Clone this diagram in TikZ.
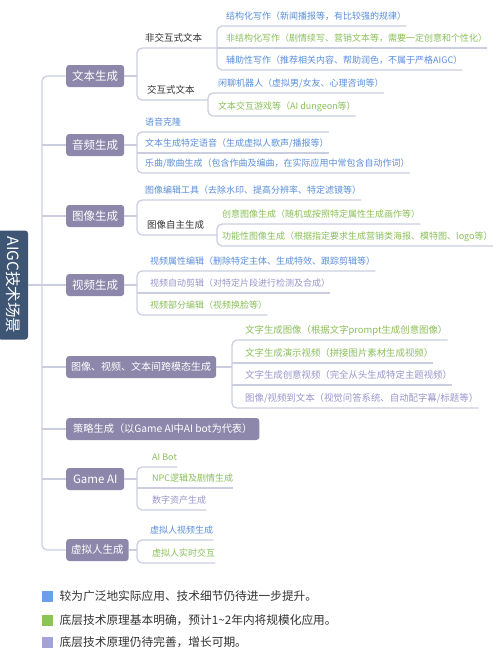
\documentclass[tikz,border=0pt]{standalone}
\usepackage{fontspec}
\setmainfont{Noto Sans CJK SC}
\usetikzlibrary{positioning}
\definecolor{rootc}{HTML}{3E5573}
\definecolor{boxc}{HTML}{8D88AB}
\definecolor{linec}{HTML}{CBCEE0}
\definecolor{blu}{HTML}{5B8FDB}
\definecolor{grn}{HTML}{8BBF5A}
\definecolor{lav}{HTML}{9896CB}
\definecolor{blukey}{HTML}{6B9FE8}
\definecolor{grnkey}{HTML}{8CC35A}
\definecolor{lavkey}{HTML}{A3A3D9}
\definecolor{ink}{HTML}{333333}

\begin{document}
\begin{tikzpicture}[x=1pt, y=-1pt]
            \tikzset{topic/.style={fill=boxc, text=white, rounded corners=3pt, minimum height=22pt, minimum width=58pt, inner xsep=5pt, anchor=west, font=\fontsize{11.5}{12}\selectfont},
                     leaf/.style={anchor=south west, inner xsep=0pt, inner ysep=4.5pt, text height=7pt, text depth=2pt, font=\fontsize{9}{10}\selectfont},
                     sub/.style={leaf, text=ink, font=\fontsize{9.5}{10}\selectfont},
                     link/.style={draw=linec, line width=1.2pt},
                     fork/.style={link, rounded corners=5pt},
                     key/.style={minimum size=11pt, inner sep=0pt},
                     note/.style={text=ink, font=\fontsize{11.7}{12}\selectfont}}
            \useasboundingbox[fill=white] (0,0) rectangle (500,656);
            \coordinate (trunk) at (42,0);
            \coordinate (b1) at (137,0);
            \coordinate (b2) at (217,0);
            \coordinate (b3) at (208,0);
            \coordinate (b4) at (217,0);
            \coordinate (b5) at (232,0);

            \node[fill=rootc, text=white, rounded corners=3pt, rotate=-90, minimum width=109pt, minimum height=30pt, inner sep=0pt, font=\fontsize{15.5}{16}\selectfont] (root) at (13,285) {AIGC技术场景};

            \node[topic] (text) at (66,76) {文本生成};
            \node[sub] (noni) at (145,48) {非交互式文本};
            \node[sub] (inter) at (147,100) {交互式文本};
            \node[leaf, text=blu] (t1) at (226,26) {结构化写作（新闻播报等，有比较强的规律）};
            \node[leaf, text=grn] (t2) at (226,48) {非结构化写作（剧情续写、营销文本等，需要一定创意和个性化）};
            \node[leaf, text=blu] (t3) at (226,70) {辅助性写作（推荐相关内容、帮助润色，不属于严格AIGC）};
            \node[leaf, text=blu] (t4) at (218,93) {闲聊机器人（虚拟男/女友、心理咨询等）};
            \node[leaf, text=grn] (t5) at (218,116) {文本交互游戏等（AI dungeon等）};

            \node[topic] (audio) at (66,145) {音频生成};
            \node[leaf, text=blu] (a1) at (145,132) {语音克隆};
            \node[leaf, text=blu] (a2) at (145,153) {文本生成特定语音（生成虚拟人歌声/播报等）};
            \node[leaf, text=blu] (a3) at (145,173) {乐曲/歌曲生成（包含作曲及编曲，在实际应用中常包含自动作词）};

            \node[topic] (image) at (66,216) {图像生成};
            \node[leaf, text=blu] (i1) at (145,200) {图像编辑工具（去除水印、提高分辨率、特定滤镜等）};
            \node[sub] (i2) at (147,235) {图像自主生成};
            \node[leaf, text=grn] (i3) at (222,224) {创意图像生成（随机或按照特定属性生成画作等）};
            \node[leaf, text=grn] (i4) at (222,246) {功能性图像生成（根据指定要求生成营销类海报、模特图、logo等）};

            \node[topic] (video) at (66,285) {视频生成};
            \node[leaf, text=blu] (v1) at (150,271) {视频属性编辑（删除特定主体、生成特效、跟踪剪辑等）};
            \node[leaf, text=lav] (v2) at (150,293) {视频自动剪辑（对特定片段进行检测及合成）};
            \node[leaf, text=grn] (v3) at (150,315) {视频部分编辑（视频换脸等）};

            \node[topic, font=\fontsize{10}{11}\selectfont] (cross) at (66,367) {图像、视频、文本间跨模态生成};
            \node[leaf, text=grn, font=\fontsize{9.4}{10}\selectfont] (x1) at (245,340) {文字生成图像（根据文字prompt生成创意图像）};
            \node[leaf, text=grn, font=\fontsize{9.4}{10}\selectfont] (x2) at (245,363) {文字生成演示视频（拼接图片素材生成视频）};
            \node[leaf, text=lav, font=\fontsize{9.4}{10}\selectfont] (x3) at (245,385) {文字生成创意视频（完全从头生成特定主题视频）};
            \node[leaf, text=lav, font=\fontsize{9.4}{10}\selectfont] (x4) at (245,408) {图像/视频到文本（视觉问答系统、自动配字幕/标题等）};

            \node[topic, inner xsep=7pt, font=\fontsize{10.2}{11}\selectfont] (strat) at (66,429) {策略生成（以Game AI中AI bot为代表）};

            \node[topic] (game) at (66,479) {Game AI};
            \node[leaf, text=grn] (g1) at (152,467) {AI Bot};
            \node[leaf, text=grn] (g2) at (152,488) {NPC逻辑及剧情生成};
            \node[leaf, text=lav] (g3) at (152,510) {数字资产生成};

            \node[topic, font=\fontsize{10.5}{11}\selectfont] (human) at (66,550) {虚拟人生成};
            \node[leaf, text=blu] (h1) at (150,540) {虚拟人视频生成};
            \node[leaf, text=grn] (h2) at (152,563) {虚拟人实时交互};

            \draw[fork] (text.west) -- (text.west -| trunk) -- (human.west -| trunk) -- (human.west);
            \foreach \n in {audio,image,video,cross,strat,game}
                \draw[link] (\n.west -| trunk) -- (\n.west);
            \draw[link] (root.north) -- (root.north -| trunk);

            \draw[link] (text.east) -- (text.east -| b1);
            \draw[fork] (noni.south -| b2) -- (noni.south -| b1) -- (inter.south -| b1) -- (inter.south -| b3);
            \draw[fork] (t1.south east) -- (t1.south -| b2) -- (t3.south -| b2) -- (t3.south east);
            \draw[link] (t2.south -| b2) -- (t2.south east);
            \draw[fork] (t4.south east) -- (t4.south -| b3) -- (t5.south -| b3) -- (t5.south east);

            \draw[link] (audio.east) -- (audio.east -| b1);
            \draw[fork] (a2.south east |- a1.south) -- (a1.south -| b1) -- (a3.south -| b1) -- (a3.south east);
            \draw[link] (a2.south -| b1) -- (a2.south east);

            \draw[link] (image.east) -- (image.east -| b1);
            \draw[fork] (i1.south east) -- (i1.south -| b1) -- (i2.south -| b1) -- (i2.south -| b4);
            \draw[fork] (i3.south east) -- (i3.south -| b4) -- (i4.south -| b4) -- (i4.south east);

            \draw[link] (video.east) -- (video.east -| b1);
            \draw[fork] (v1.south east) -- (v1.south -| b1) -- (v3.south -| b1) -- (v3.south east);
            \draw[link] (v2.south -| b1) -- (v2.south east);

            \draw[link] (cross.east) -- (cross.east -| b5);
            \draw[fork] (x1.south east) -- (x1.south -| b5) -- (x4.south -| b5) -- (x4.south east);
            \draw[link] (x2.south -| b5) -- (x2.south east);
            \draw[link] (x3.south -| b5) -- (x3.south east);

            \draw[link] (game.east) -- (game.east -| b1);
            \draw[fork] (g1.south east) -- (g1.south -| b1) -- (g3.south -| b1) -- (g3.south east);
            \draw[link] (g2.south -| b1) -- (g2.south east);

            \draw[link] (human.east) -- (human.east -| b1);
            \draw[fork] (h1.south east) -- (h1.south -| b1) -- (h2.south -| b1) -- (h2.south east);

            \node[key, fill=blukey] (k1) at (47.5,596) {};
            \node[key, fill=grnkey] (k2) at (47.5,620) {};
            \node[key, fill=lavkey] (k3) at (47.5,642) {};
            \node[note, right=3pt of k1] (n1) {较为广泛地实际应用、技术细节仍待进一步提升。};
            \node[note, right=3pt of k2] (n2) {底层技术原理基本明确，预计1\textasciitilde 2年内将规模化应用。};
            \node[note, right=3pt of k3] (n3) {底层技术原理仍待完善，增长可期。};
\end{tikzpicture}
\end{document}
